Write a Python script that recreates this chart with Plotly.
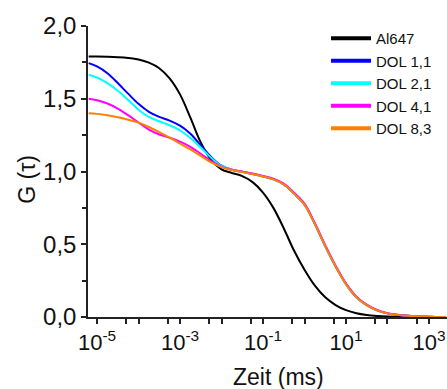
import plotly.graph_objects as go

# Lag time grid (ms) shared by all curves
tau_ms = [6.3e-6, 1e-5, 1.78e-5, 3.16e-5, 5.62e-5, 1e-4, 1.78e-4, 3.16e-4, 5.62e-4,
          1e-3, 1.78e-3, 3.16e-3, 5.62e-3, 1e-2, 1.78e-2, 3.16e-2, 5.62e-2,
          1e-1, 1.78e-1, 3.16e-1, 5.62e-1, 1.0, 1.78, 3.16, 5.62,
          10.0, 17.8, 31.6, 56.2, 100.0, 316.0, 1000.0, 2500.0]

g_al647 = [1.79, 1.79, 1.788, 1.785, 1.78, 1.77, 1.748, 1.71, 1.64,
           1.53, 1.37, 1.20, 1.08, 1.015, 0.99, 0.968, 0.927,
           0.855, 0.75, 0.61, 0.455, 0.325, 0.215, 0.135, 0.082,
           0.047, 0.026, 0.014, 0.007, 0.003, 0.001, 0.0, 0.0]

g_dol11 = [1.745, 1.722, 1.675, 1.608, 1.535, 1.465, 1.41, 1.375, 1.35,
           1.315, 1.26, 1.18, 1.10, 1.04, 1.012, 0.998, 0.983,
           0.966, 0.946, 0.912, 0.848, 0.772, 0.638, 0.487, 0.347,
           0.226, 0.136, 0.082, 0.046, 0.025, 0.008, 0.002, 0.0]

g_dol21 = [1.665, 1.646, 1.607, 1.555, 1.492, 1.425, 1.375, 1.345, 1.318,
           1.283, 1.23, 1.165, 1.095, 1.038, 1.012, 0.998, 0.983,
           0.966, 0.946, 0.912, 0.848, 0.772, 0.638, 0.487, 0.347,
           0.226, 0.136, 0.082, 0.046, 0.025, 0.008, 0.002, 0.0]

g_dol41 = [1.50, 1.49, 1.467, 1.432, 1.387, 1.337, 1.288, 1.254, 1.232,
           1.205, 1.17, 1.122, 1.072, 1.032, 1.012, 0.999, 0.986,
           0.969, 0.951, 0.917, 0.854, 0.779, 0.644, 0.494, 0.353,
           0.231, 0.14, 0.085, 0.048, 0.026, 0.008, 0.002, 0.0]

g_dol83 = [1.40, 1.396, 1.386, 1.373, 1.356, 1.336, 1.306, 1.27, 1.232,
           1.192, 1.152, 1.107, 1.062, 1.03, 1.01, 0.997, 0.983,
           0.966, 0.946, 0.912, 0.848, 0.772, 0.638, 0.487, 0.347,
           0.226, 0.136, 0.082, 0.046, 0.025, 0.008, 0.002, 0.0]

series_names = ["Al647", "DOL 1,1", "DOL 2,1", "DOL 4,1", "DOL 8,3"]
series_values = [g_al647, g_dol11, g_dol21, g_dol41, g_dol83]
series_colors = ["#000000", "#0000ff", "#00ffff", "#ff00ff", "#ff8000"]

# Axis ticks
x_tickvals = [1e-5, 5e-5, 1e-4, 5e-4, 1e-3, 5e-3, 1e-2, 5e-2, 1e-1, 5e-1,
              1.0, 5.0, 10.0, 50.0, 100.0, 500.0, 1000.0]
x_ticktext = ["10<sup>-5</sup>", "", "", "", "10<sup>-3</sup>", "", "", "",
              "10<sup>-1</sup>", "", "", "", "10<sup>1</sup>", "", "", "",
              "10<sup>3</sup>"]
y_tickvals = [0.0, 0.5, 1.0, 1.5, 2.0]
y_ticktext = ["0,0", "0,5", "1,0", "1,5", "2,0"]

FONT = "Arial, Liberation Sans, sans-serif"

fig = go.Figure()
for name, vals, col in zip(series_names, series_values, series_colors):
    fig.add_trace(go.Scatter(x=tau_ms, y=vals, mode="lines", name=name,
                             line=dict(color=col, width=2, shape="spline", smoothing=1.0),
                             showlegend=False))
# thicker legend keys
for name, col in zip(series_names, series_colors):
    fig.add_trace(go.Scatter(x=[None], y=[None], mode="lines", name=name,
                             line=dict(color=col, width=4)))

fig.update_layout(
    width=447, height=389,
    margin=dict(l=88, r=0, t=26, b=72),
    paper_bgcolor="white", plot_bgcolor="white",
    font=dict(family=FONT, color="#111111"),
    legend=dict(x=0.663, y=1.014, xanchor="left", yanchor="top",
                font=dict(size=15, family=FONT, color="#111111"),
                itemwidth=40,
                bgcolor="rgba(0,0,0,0)", tracegroupgap=0),
    xaxis=dict(type="log", range=[-5.217, 3.434],
               showline=True, linecolor="#222222", linewidth=1.5,
               showgrid=False, zeroline=False,
               ticks="outside", ticklen=5, tickwidth=1.5, tickcolor="#222222",
               tickmode="array", tickvals=x_tickvals, ticktext=x_ticktext,
               tickfont=dict(size=22, family=FONT, color="#111111")),
    yaxis=dict(range=[0, 2.0],
               showline=True, linecolor="#222222", linewidth=1.5,
               showgrid=False, zeroline=False,
               ticks="outside", ticklen=5, tickwidth=1.5, tickcolor="#222222",
               tickmode="array", tickvals=y_tickvals, ticktext=y_ticktext,
               tickfont=dict(size=24, family=FONT, color="#111111"),
               minor=dict(tickvals=[0.25, 0.75, 1.25, 1.75], ticks="outside",
                          ticklen=4, tickwidth=1.5, tickcolor="#222222")),
    annotations=[
        dict(text="Zeit (ms)", xref="paper", yref="paper", x=0.532, y=-0.206,
             xanchor="center", yanchor="middle", showarrow=False,
             font=dict(size=23, family=FONT, color="#111111")),
        dict(text="G (\u03c4)", xref="paper", yref="paper", x=-0.17, y=0.475,
             xanchor="center", yanchor="middle", showarrow=False, textangle=-90,
             font=dict(size=23, family=FONT, color="#111111")),
    ],
)

fig.write_html("out.html")
